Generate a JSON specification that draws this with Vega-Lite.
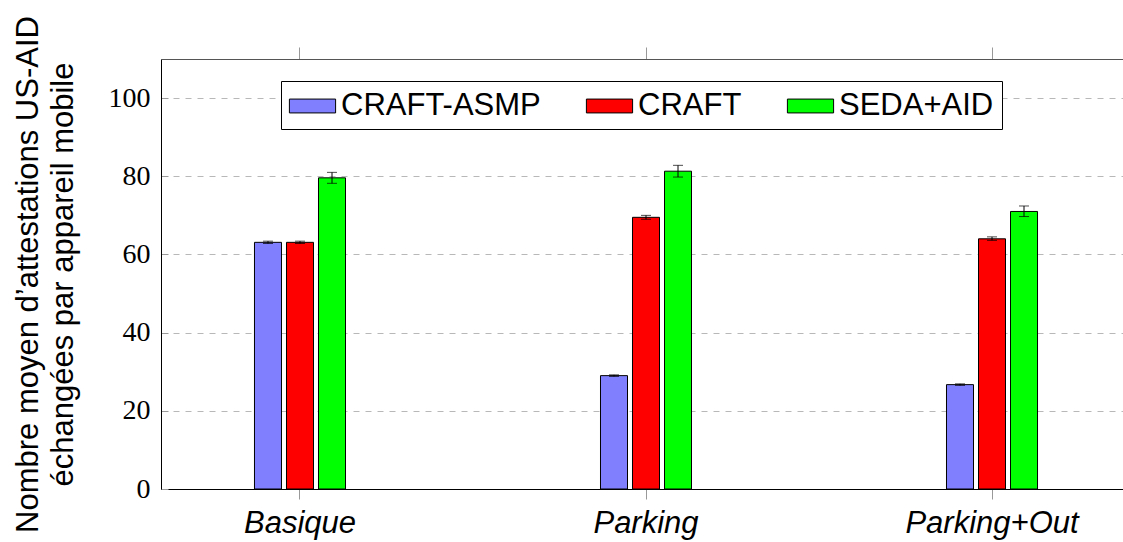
{
  "$schema": "https://vega.github.io/schema/vega-lite/v6.json",
  "width": 962,
  "height": 430,
  "padding": {"left": 161, "top": 59, "right": 0, "bottom": 53},
  "autosize": {"type": "none"},
  "background": "white",
  "config": {
    "view": {"stroke": null}
  },
  "data": {
    "values": [
      {"scenario": "Basique", "method": "CRAFT-ASMP", "value": 63.1, "lo": 62.8, "hi": 63.4},
      {"scenario": "Basique", "method": "CRAFT", "value": 63.1, "lo": 62.8, "hi": 63.4},
      {"scenario": "Basique", "method": "SEDA+AID", "value": 79.6, "lo": 78.2, "hi": 81.0},
      {"scenario": "Parking", "method": "CRAFT-ASMP", "value": 29.0, "lo": 28.8, "hi": 29.2},
      {"scenario": "Parking", "method": "CRAFT", "value": 69.5, "lo": 69.0, "hi": 70.0},
      {"scenario": "Parking", "method": "SEDA+AID", "value": 81.3, "lo": 79.8, "hi": 82.8},
      {"scenario": "Parking+Out", "method": "CRAFT-ASMP", "value": 26.7, "lo": 26.5, "hi": 26.9},
      {"scenario": "Parking+Out", "method": "CRAFT", "value": 64.0, "lo": 63.6, "hi": 64.5},
      {"scenario": "Parking+Out", "method": "SEDA+AID", "value": 71.0, "lo": 69.7, "hi": 72.4}
    ]
  },
  "resolve": {"axis": {"x": "independent"}},
  "layer": [
    {
      "mark": {"type": "bar", "stroke": "black", "strokeWidth": 1},
      "encoding": {
        "x": {
          "field": "scenario",
          "type": "nominal",
          "sort": ["Basique", "Parking", "Parking+Out"],
          "scale": {"paddingInner": 0.7225, "paddingOuter": 0.2514, "align": 0.523},
          "axis": {
            "orient": "bottom",
            "title": null,
            "labelAngle": 0,
            "labelFont": "Liberation Sans",
            "labelFontStyle": "italic",
            "labelFontSize": 31,
            "labelColor": "black",
            "labelPadding": 9,
            "domainColor": "black",
            "domainWidth": 1,
            "tickColor": "#999",
            "tickSize": 10,
            "grid": false
          }
        },
        "xOffset": {
          "field": "method",
          "type": "nominal",
          "sort": ["CRAFT-ASMP", "CRAFT", "SEDA+AID"],
          "scale": {"paddingInner": 0.156, "paddingOuter": 0.078}
        },
        "y": {
          "field": "value",
          "type": "quantitative",
          "scale": {"domain": [0, 110], "nice": false},
          "axis": {
            "title": ["Nombre moyen d’attestations US-AID", "échangées par appareil mobile"],
            "titleFont": "Liberation Sans",
            "titleFontSize": 31,
            "titleFontWeight": "normal",
            "titleColor": "black",
            "titleLineHeight": 35,
            "titlePadding": 29,
            "values": [0, 5, 10, 15, 20, 25, 30, 35, 40, 45, 50, 55, 60, 65, 70, 75, 80, 85, 90, 95, 100, 105, 110],
            "labelExpr": "datum.value % 20 === 0 && datum.value <= 100 ? datum.label : ''",
            "labelFont": "Liberation Serif",
            "labelFontSize": 28,
            "labelColor": "black",
            "labelPadding": 18,
            "domainColor": "black",
            "domainWidth": 1,
            "tickColor": "#999",
            "tickSize": -7,
            "grid": true,
            "gridColor": {"condition": {"test": "datum.value % 20 === 0", "value": "#b8b8b8"}, "value": "#e6e6e6"},
            "gridDash": {"condition": {"test": "datum.value % 20 === 0", "value": [6, 6]}, "value": []},
            "gridWidth": 1
          }
        },
        "color": {
          "field": "method",
          "type": "nominal",
          "sort": ["CRAFT-ASMP", "CRAFT", "SEDA+AID"],
          "scale": {"domain": ["CRAFT-ASMP", "CRAFT", "SEDA+AID"], "range": ["#8080ff", "#ff0000", "#00ff00"]},
          "legend": {
            "title": null,
            "orient": "none",
            "legendX": 120,
            "legendY": 22,
            "direction": "horizontal",
            "strokeColor": "black",
            "fillColor": "white",
            "padding": 8,
            "symbolType": "M-1.4,-0.42H1.4V0.42H-1.4Z",
            "symbolSize": 1089,
            "symbolStrokeColor": "black",
            "symbolStrokeWidth": 1,
            "symbolOffset": 6.5,
            "labelFont": "Liberation Sans",
            "labelFontSize": 31,
            "labelColor": "black",
            "labelOffset": 11.5,
            "columnPadding": 43,
            "labelLimit": 400
          }
        }
      }
    },
    {
      "mark": {"type": "rule", "color": "black", "strokeWidth": 1},
      "encoding": {
        "x": {"field": "scenario", "type": "nominal", "sort": ["Basique", "Parking", "Parking+Out"], "axis": null},
        "xOffset": {"field": "method", "type": "nominal", "sort": ["CRAFT-ASMP", "CRAFT", "SEDA+AID"]},
        "y": {"field": "lo", "type": "quantitative"},
        "y2": {"field": "hi"}
      }
    },
    {
      "mark": {"type": "tick", "color": "black", "size": 10, "thickness": 1},
      "encoding": {
        "x": {"field": "scenario", "type": "nominal", "sort": ["Basique", "Parking", "Parking+Out"], "axis": null},
        "xOffset": {"field": "method", "type": "nominal", "sort": ["CRAFT-ASMP", "CRAFT", "SEDA+AID"]},
        "y": {"field": "lo", "type": "quantitative"}
      }
    },
    {
      "mark": {"type": "tick", "color": "black", "size": 10, "thickness": 1},
      "encoding": {
        "x": {
          "field": "scenario",
          "type": "nominal",
          "sort": ["Basique", "Parking", "Parking+Out"],
          "axis": {
            "orient": "top",
            "title": null,
            "labels": false,
            "domainColor": "#555",
            "tickColor": "#999",
            "tickSize": 12,
            "grid": false
          }
        },
        "xOffset": {"field": "method", "type": "nominal", "sort": ["CRAFT-ASMP", "CRAFT", "SEDA+AID"]},
        "y": {"field": "hi", "type": "quantitative"}
      }
    }
  ]
}
